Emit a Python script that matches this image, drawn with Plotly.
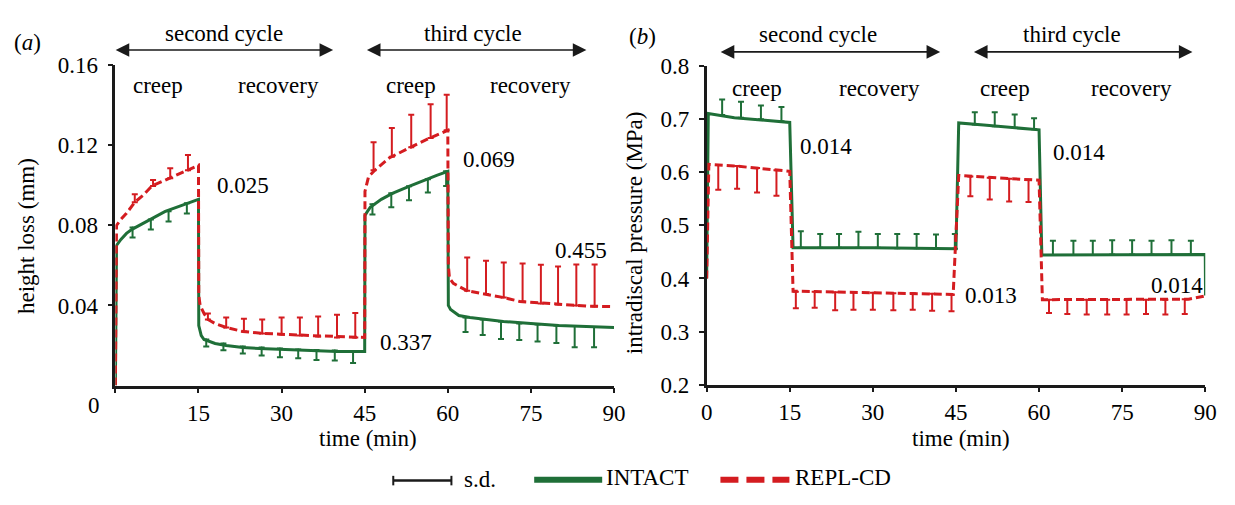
import plotly.graph_objects as go

W, H = 1235, 505
FONT = "'Liberation Serif', Tinos, 'Times New Roman', Times, serif"
FS = 23
GREEN = "#1f6f38"
RED = "#d41c20"

# ---------------- Panel (a): height loss (mm) ----------------
a_int_t = [0, 0.2, 1, 2, 3, 5, 7, 9, 11, 13, 15,
           15.05, 15.5, 16, 17, 18, 20, 23, 26, 30, 35, 40, 45,
           45.05, 45.5, 46, 48, 50, 53, 56, 58, 60,
           60.1, 60.5, 61, 62, 64, 67, 70, 75, 80, 85, 90]
a_int_v = [0, 0.070, 0.073, 0.076, 0.078, 0.081, 0.084, 0.087, 0.089, 0.091, 0.093,
           0.030, 0.025, 0.023, 0.022, 0.021, 0.020, 0.019, 0.0185, 0.018, 0.0175, 0.017, 0.017,
           0.085, 0.087, 0.089, 0.093, 0.096, 0.0995, 0.103, 0.105, 0.107,
           0.040, 0.038, 0.037, 0.035, 0.034, 0.033, 0.032, 0.031, 0.030, 0.0295, 0.029]

a_rep_t = [0, 0.2, 1, 2, 3.5, 5, 6.6, 9.8, 12.9, 15,
           15.05, 15.3, 16, 16.7, 18, 20, 23, 27, 35, 45,
           45.05, 45.7, 47, 49.5, 53, 56.5, 60,
           60.1, 60.3, 61, 63.5, 67, 70, 73, 78, 85, 90]
a_rep_v = [0, 0.080, 0.083, 0.086, 0.0916, 0.095, 0.0997, 0.1035, 0.1075, 0.110,
           0.045, 0.040, 0.036, 0.033, 0.031, 0.029, 0.027, 0.026, 0.025, 0.024,
           0.097, 0.1043, 0.108, 0.1138, 0.1186, 0.1233, 0.1275,
           0.060, 0.0537, 0.051, 0.0473, 0.0457, 0.044, 0.042, 0.041, 0.0397, 0.0394]

# s.d. bars (INTACT below curve, REPL-CD above curve)
a_int_bt = [3.1, 6.4, 9.6, 12.9,
            16.4, 19.5, 23, 26.4, 29.7, 33, 36.3, 39.6, 42.9,
            46.4, 49.8, 53, 56.4, 59.7,
            63.2, 66.3, 69.6, 72.9, 76.2, 79.6, 82.9, 86.4]
a_int_bv = [0.079, 0.083, 0.087, 0.091,
            0.023, 0.021, 0.0195, 0.019, 0.0185, 0.018, 0.0177, 0.0175, 0.017,
            0.0905, 0.096, 0.0995, 0.103, 0.107,
            0.034, 0.033, 0.032, 0.031, 0.0305, 0.030, 0.0297, 0.0293]
a_int_sd = [0.005, 0.005, 0.005, 0.005,
            0.0035, 0.0034, 0.0035, 0.004, 0.0044, 0.0044, 0.005, 0.005, 0.0058,
            0.005, 0.007, 0.007, 0.0066, 0.0073,
            0.0073, 0.0078, 0.0087, 0.0082, 0.0085, 0.0088, 0.0106, 0.0102]

a_rep_bt = [3.5, 6.8, 9.9, 13.1,
            16.7, 20, 23.2, 26.5, 30, 33.3, 36.6, 40, 43.3,
            46.6, 49.9, 53.4, 56.9, 59.8,
            63.5, 66.9, 70.1, 73.5, 76.8, 79.9, 83.2, 86.5]
a_rep_bv = [0.0916, 0.0997, 0.1035, 0.1075,
            0.033, 0.029, 0.027, 0.026, 0.0255, 0.025, 0.0245, 0.024, 0.024,
            0.1075, 0.1143, 0.119, 0.1237, 0.1275,
            0.0473, 0.0457, 0.044, 0.042, 0.041, 0.0405, 0.040, 0.0395]
a_rep_sd = [0.004, 0.003, 0.005, 0.0076,
            0.003, 0.005, 0.0064, 0.007, 0.0085, 0.009, 0.010, 0.0114, 0.0122,
            0.014, 0.0144, 0.0163, 0.0168, 0.0178,
            0.0167, 0.0166, 0.0175, 0.019, 0.0193, 0.019, 0.0205, 0.021]

a_labels = ["0.025", "0.069", "0.337", "0.455"]

# ---------------- Panel (b): intradiscal pressure (MPa) ----------------
b_int_t = [0, 0.3, 5, 10, 15, 15.6, 30, 45, 45.5, 50, 55, 60, 60.5, 75, 90, 90.05]
b_int_v = [0.40, 0.711, 0.703, 0.699, 0.694, 0.458, 0.458, 0.456, 0.693, 0.689, 0.685, 0.680,
           0.444, 0.445, 0.445, 0.368]

b_rep_t = [0, 0.4, 5, 10, 15, 15.6, 30, 44.5, 45.5, 50, 55, 60, 60.6, 75, 87, 90]
b_rep_v = [0.40, 0.615, 0.612, 0.607, 0.602, 0.376, 0.373, 0.370, 0.594, 0.591, 0.588, 0.585,
           0.360, 0.360, 0.361, 0.367]

b_int_bt = [2.8, 6.2, 9.8, 13.5,
            17, 20.5, 23.9, 27.4, 30.9, 34.4, 37.9, 41.4, 44.8,
            48.4, 52, 55.6, 59.1,
            62.5, 66.2, 69.7, 73.2, 76.8, 80.3, 83.9, 87.4]
b_int_bv = [0.708, 0.703, 0.700, 0.696,
            0.458, 0.458, 0.458, 0.458, 0.458, 0.457, 0.457, 0.457, 0.456,
            0.690, 0.687, 0.684, 0.681,
            0.444, 0.444, 0.444, 0.445, 0.445, 0.445, 0.445, 0.445]
b_int_sd = [0.029, 0.030, 0.026, 0.027,
            0.031, 0.026, 0.026, 0.030, 0.026, 0.027, 0.027, 0.026, 0.028,
            0.023, 0.026, 0.025, 0.021,
            0.027, 0.027, 0.027, 0.027, 0.027, 0.026, 0.027, 0.026]

b_rep_bt = [2.1, 5.5, 9.1, 12.6,
            16.1, 19.5, 23.2, 26.5, 30, 33.7, 37.2, 40.7, 44.2,
            47.6, 51.1, 54.6, 58.1,
            61.8, 65.1, 68.6, 72.3, 75.8, 79.3, 82.8, 86.3]
b_rep_bv = [0.614, 0.612, 0.608, 0.604,
            0.375, 0.375, 0.374, 0.374, 0.373, 0.372, 0.372, 0.371, 0.370,
            0.592, 0.590, 0.588, 0.586,
            0.360, 0.360, 0.360, 0.360, 0.360, 0.360, 0.360, 0.361]
b_rep_sd = [0.047, 0.043, 0.046, 0.048,
            0.031, 0.030, 0.034, 0.033, 0.032, 0.032, 0.031, 0.032, 0.032,
            0.037, 0.041, 0.043, 0.042,
            0.025, 0.027, 0.028, 0.028, 0.028, 0.027, 0.028, 0.028]

b_labels = ["0.014", "0.014", "0.013", "0.014"]

x_ticks = [0, 15, 30, 45, 60, 75, 90]
a_yticks = [0.04, 0.08, 0.12, 0.16]
b_yticks = [0.2, 0.3, 0.4, 0.5, 0.6, 0.7, 0.8]
phase_labels = ["creep", "recovery", "creep", "recovery"]
cycle_labels = ["second cycle", "third cycle"]


def px(x):
    return x / W


def py(y):
    return 1 - y / H


fig = go.Figure()


def add_line(t, v, color, dash, xa, ya):
    fig.add_trace(go.Scatter(x=t, y=v, mode="lines", xaxis=xa, yaxis=ya,
                             line=dict(color=color, width=3, dash=dash),
                             showlegend=False, hoverinfo="skip"))


def add_bars(t, v, sd, color, up, xa, ya):
    zeros = [0] * len(sd)
    fig.add_trace(go.Scatter(
        x=t, y=v, mode="markers", xaxis=xa, yaxis=ya,
        marker=dict(size=2, color=color),
        error_y=dict(type="data", symmetric=False,
                     array=sd if up else zeros,
                     arrayminus=zeros if up else sd,
                     color=color, thickness=2, width=3),
        showlegend=False, hoverinfo="skip"))


add_bars(a_int_bt, a_int_bv, a_int_sd, GREEN, False, "x", "y")
add_bars(a_rep_bt, a_rep_bv, a_rep_sd, RED, True, "x", "y")
add_line(a_int_t, a_int_v, GREEN, "solid", "x", "y")
add_line(a_rep_t, a_rep_v, RED, "8px,4px", "x", "y")

add_bars(b_int_bt, b_int_bv, b_int_sd, GREEN, True, "x2", "y2")
add_bars(b_rep_bt, b_rep_bv, b_rep_sd, RED, False, "x2", "y2")
add_line(b_int_t, b_int_v, GREEN, "solid", "x2", "y2")
add_line(b_rep_t, b_rep_v, RED, "8px,4px", "x2", "y2")

ydom = [py(393), py(56)]
axis_common = dict(showline=True, linecolor="#1a1a1a", linewidth=2.5, ticks="outside",
                   ticklen=5, tickwidth=2, tickcolor="#1a1a1a", showgrid=False,
                   zeroline=False, tickfont=dict(family=FONT, size=FS, color="black"))

fig.update_layout(
    width=W, height=H, autosize=False,
    margin=dict(l=0, r=0, t=0, b=0),
    paper_bgcolor="white", plot_bgcolor="white",
    font=dict(family=FONT, size=FS, color="black"),
    xaxis=dict(domain=[px(111), px(617)], range=[0, 90], anchor="y",
               tickvals=x_ticks, ticktext=[""] + [str(v) for v in x_ticks[1:]],
               **axis_common),
    yaxis=dict(domain=ydom, range=[0, 0.16], anchor="x",
               tickvals=a_yticks, ticktext=["%.2f" % v for v in a_yticks],
               ticklabelstandoff=5, **axis_common),
    xaxis2=dict(domain=[px(711), px(1217)], range=[0, 90], anchor="y2",
                tickvals=x_ticks, ticktext=[str(v) for v in x_ticks], **axis_common),
    yaxis2=dict(domain=[py(392), py(57)], range=[0.2, 0.8], anchor="x2",
                tickvals=b_yticks, ticktext=["%.1f" % v for v in b_yticks],
                ticklabelstandoff=5, **axis_common),
)

ann = []


def text(x, y, s, size=FS, angle=0, xanchor="center"):
    ann.append(dict(x=px(x), y=py(y), xref="paper", yref="paper", text=s,
                    showarrow=False, textangle=angle, xanchor=xanchor, yanchor="middle",
                    font=dict(family=FONT, size=size, color="black")))


def arrow(x0, x1, y):
    ann.append(dict(x=px(x1), y=py(y), xref="paper", yref="paper",
                    ax=x0 - x1, ay=0, axref="pixel", ayref="pixel",
                    showarrow=True, arrowhead=2, arrowside="end+start",
                    arrowsize=1.7, arrowwidth=1.6, arrowcolor="#1a1a1a", text=""))


# panel letters
text(22, 32, "(<i>a</i>)")
text(646, 26, "(<i>b</i>)")
# cycle labels and arrows
text(221, 23, cycle_labels[0])
text(474, 23, cycle_labels[1])
text(824, 24, cycle_labels[0])
text(1082, 24, cycle_labels[1])
arrow(113, 332, 40)
arrow(368, 589, 40)
arrow(727, 948, 42)
arrow(984, 1204, 42)
# phase labels
for xpos, s in zip([154, 277, 411, 532], phase_labels):
    text(xpos, 77, s)
for xpos, s in zip([762, 886, 1014, 1142], phase_labels):
    text(xpos, 80, s)
# numeric labels
for (xpos, ypos), s in zip([(240, 183), (490, 155), (406, 348), (583, 251)], a_labels):
    text(xpos, ypos, s)
for (xpos, ypos), s in zip([(832, 141), (1089, 148), (1000, 298), (1188, 288)], b_labels):
    text(xpos, ypos, s)
# stray "0" tick label of panel (a)
text(89, 414, "0")
# axis titles
text(21, 236, "height loss (mm)", angle=-90)
text(638, 232, "intradiscal pressure (MPa)", angle=-90)
text(367, 449, "time (min)")
text(969, 449, "time (min)")
# legend texts
text(463, 492, "s.d.", xanchor="left")
text(607, 490, "INTACT", xanchor="left")
text(799, 490, "REPL-CD", xanchor="left")

shapes = []
# s.d. symbol
shapes.append(dict(type="line", xref="paper", yref="paper", x0=px(393), x1=px(452),
                   y0=py(493), y1=py(493), line=dict(color="#1a1a1a", width=2.5)))
for xx in (393, 452):
    shapes.append(dict(type="line", xref="paper", yref="paper", x0=px(xx), x1=px(xx),
                       y0=py(488), y1=py(498), line=dict(color="#1a1a1a", width=2)))
# INTACT sample
shapes.append(dict(type="line", xref="paper", yref="paper", x0=px(536), x1=px(605),
                   y0=py(492), y1=py(492), line=dict(color=GREEN, width=6)))
# REPL-CD sample
shapes.append(dict(type="line", xref="paper", yref="paper", x0=px(725), x1=px(795),
                   y0=py(492), y1=py(492), line=dict(color=RED, width=6, dash="18px,8px")))

fig.update_layout(annotations=ann, shapes=shapes)
fig.write_html("out.html")
